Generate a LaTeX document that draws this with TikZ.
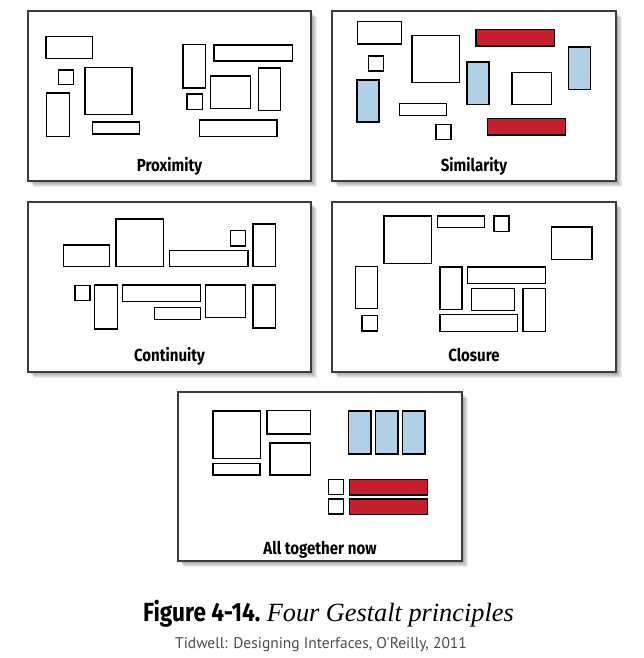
\documentclass[tikz,border=0pt]{standalone}
\usepackage{fontspec}
\setmainfont{Liberation Serif}
\newfontfamily\labelfont[FakeStretch=0.86]{Fira Sans}
\newfontfamily\creditfont{PT Sans}
\usepackage{tikz}
\usetikzlibrary{calc}
\definecolor{boxred}{RGB}{197,30,44}
\definecolor{boxblue}{RGB}{176,208,232}
\definecolor{framegray}{RGB}{60,60,60}
\tikzset{x=1pt, y=-1pt}
\tikzset{box/.style={draw=black, line width=1.5pt},
  redbox/.style={box, fill=boxred},
  bluebox/.style={box, fill=boxblue},
  panel/.style={draw=framegray, line width=1.1pt, fill=white},
  panellabel/.style={anchor=base, font=\labelfont\bfseries\fontsize{17.5}{17.5}\selectfont}}

% panel with soft shadow: corners, name, label position
\newcommand{\gpanel}[5]{%
  \foreach \d in {1,...,6}
    \fill[black, opacity=0.07] ($(#1)+(\d,\d)$) rectangle ($(#2)+(\d,\d)$);
  \draw[panel] (#1) rectangle (#2);
  \node[panellabel] (#3) at (#4) {#5};
}

\begin{document}
\begin{tikzpicture}
  \useasboundingbox[fill=white] (0,0) rectangle (644,658);

  % Proximity
  \gpanel{28,11}{311,181}{proximity}{169.5,171}{Proximity}
  \draw[box] (46,36.5) rectangle (92.5,58.5);
  \draw[box] (58.5,70) rectangle (73.5,84.5);
  \draw[box] (85,67.5) rectangle (132,114.5);
  \draw[box] (46.5,93) rectangle (69.5,136.5);
  \draw[box] (92.5,122) rectangle (139.5,134);
  \draw[box] (183,44.5) rectangle (205.5,88);
  \draw[box] (214,45) rectangle (292.5,61);
  \draw[box] (187,94) rectangle (202.5,109.5);
  \draw[box] (210.5,76) rectangle (250.5,108.5);
  \draw[box] (258.5,68) rectangle (280.5,110.5);
  \draw[box] (199.5,120) rectangle (277,136.5);

  % Similarity
  \gpanel{332,11}{616,181}{similarity}{474,171}{Similarity}
  \draw[box] (357.5,21.5) rectangle (401.5,44);
  \draw[box] (368.5,56) rectangle (383.5,71);
  \draw[box] (412,35.5) rectangle (459.5,82.5);
  \draw[redbox] (476,29.5) rectangle (554.5,46);
  \draw[bluebox] (568.5,47) rectangle (590.5,89.5);
  \draw[bluebox] (467,62) rectangle (489,104.5);
  \draw[box] (512,72.5) rectangle (551.5,104.5);
  \draw[bluebox] (357,80) rectangle (379,122);
  \draw[box] (399.5,103.5) rectangle (446.5,115.5);
  \draw[box] (436,124.5) rectangle (451,139.5);
  \draw[redbox] (487.5,118.5) rectangle (565.5,135);

  % Continuity
  \gpanel{28,202}{311,372}{continuity}{169.5,361.5}{Continuity}
  \draw[box] (63.5,245) rectangle (109.5,266.5);
  \draw[box] (116,219) rectangle (163.5,266.5);
  \draw[box] (169.5,250.5) rectangle (248,266.5);
  \draw[box] (230.5,230.5) rectangle (245.5,246);
  \draw[box] (253,224) rectangle (275.5,266.5);
  \draw[box] (75,285.5) rectangle (90,300.5);
  \draw[box] (94.5,285) rectangle (117.5,329);
  \draw[box] (122.5,285) rectangle (200.5,301.5);
  \draw[box] (154.5,307.5) rectangle (200.5,319.5);
  \draw[box] (205.5,285) rectangle (245.5,317.5);
  \draw[box] (253,285) rectangle (275.5,328);

  % Closure
  \gpanel{332,202}{616,372}{closure}{474,361.5}{Closure}
  \draw[box] (384,216) rectangle (431.5,263.5);
  \draw[box] (437.5,216) rectangle (484.5,227.5);
  \draw[box] (494,216) rectangle (509,231.5);
  \draw[box] (551.5,227) rectangle (592,259.5);
  \draw[box] (355.5,266.5) rectangle (377.5,308.5);
  \draw[box] (362,315.5) rectangle (377.5,331);
  \draw[box] (440,267) rectangle (462,309.5);
  \draw[box] (467.5,267) rectangle (545.5,283.5);
  \draw[box] (471.5,288.5) rectangle (514.5,310.5);
  \draw[box] (523,288.5) rectangle (545.5,331.5);
  \draw[box] (440,314.5) rectangle (517.5,331.5);

  % All together now
  \gpanel{178,392}{462,561}{together}{320,554.5}{All together now}
  \draw[box] (213,411) rectangle (260.5,458.5);
  \draw[box] (267,410.5) rectangle (310.5,434);
  \draw[box] (270,443) rectangle (310.5,475);
  \draw[box] (213,463.5) rectangle (260,475);
  \foreach \xa in {348.5,375.5,402.5}
    \draw[bluebox] (\xa,411) rectangle ++(22.5,43);
  \foreach \ya in {479.5,499}
  {
    \draw[box] (328.5,\ya) rectangle ++(15,15);
    \draw[redbox] (349.5,\ya) rectangle ++(78,15.5);
  }

  % caption
  \node[anchor=base west, inner sep=0pt] (caption) at (143,621)
    {\fontsize{26.3}{26.3}\selectfont{\labelfont\bfseries Figure 4-14.}\ \textit{Four Gestalt principles}};
  \node[anchor=base, inner sep=0pt, text=black!70] (credit) at (321,648)
    {\creditfont\fontsize{15.5}{15.5}\selectfont Tidwell: Designing Interfaces, O'Reilly, 2011};
\end{tikzpicture}
\end{document}
